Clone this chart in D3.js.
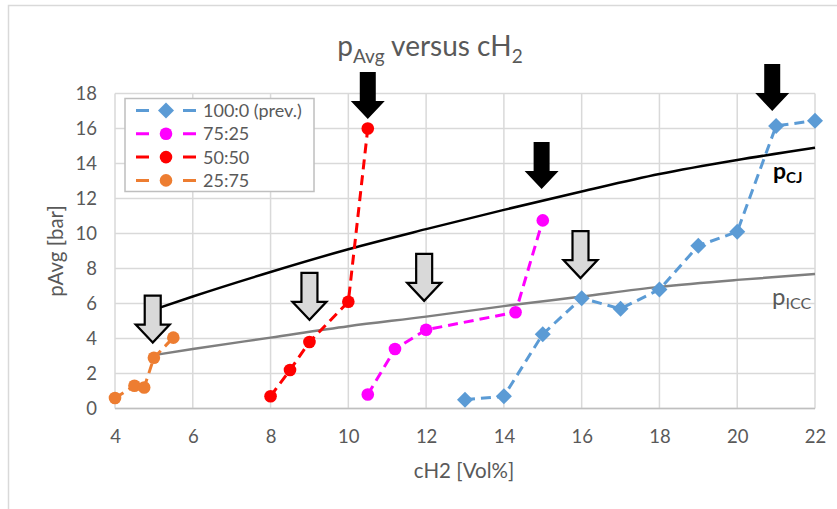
<!DOCTYPE html>
<html><head><meta charset="utf-8">
<script src="https://cdn.jsdelivr.net/npm/d3@7"></script>
<style>body{margin:0;background:#fff;} svg{display:block;font-family:Lato, "Open Sans", sans-serif;}</style>
</head><body>
<script>
// ---- data ----
const xTicks = [4,6,8,10,12,14,16,18,20,22];
const yTicks = [0,2,4,6,8,10,12,14,16,18];
const seriesNames = ["100:0 (prev.)","75:25","50:50","25:75"];
const s100_0 = [[13,0.5],[14,0.7],[15,4.25],[16,6.3],[17,5.7],[18,6.8],[19,9.3],[20,10.1],[21,16.15],[22,16.45]];
const s75_25 = [[10.5,0.8],[11.2,3.4],[12,4.5],[14.3,5.5],[15,10.75]];
const s50_50 = [[8,0.7],[8.5,2.2],[9,3.8],[10,6.1],[10.5,16.0]];
const s25_75 = [[4,0.6],[4.5,1.3],[4.75,1.2],[5,2.9],[5.5,4.05]];
const pCJ  = [[5,5.65],[6,6.4],[8,7.8],[10,9.1],[12,10.25],[14,11.35],[16,12.4],[18,13.4],[20,14.2],[22,14.9]];
const pICC = [[5,3.05],[6,3.4],[8,4.05],[10,4.7],[12,5.25],[14,5.85],[16,6.4],[18,6.95],[20,7.35],[22,7.68]];
const blackArrows = [[10.5,16.55],[14.97,12.55],[20.9,17.0]];
const greyArrows  = [[4.97,3.77],[9.0,5.07],[11.95,6.15],[15.97,7.45]];

const W=837,H=509;
const svg=d3.select("body").append("svg").attr("width",W).attr("height",H);
const x=d3.scaleLinear().domain([4,22]).range([115,815]);
const y=d3.scaleLinear().domain([0,18]).range([408.5,93.5]);
const grey="#595959";

// outer border
svg.append("rect").attr("x",8.5).attr("y",5.5).attr("width",W+20).attr("height",H+20)
  .attr("fill","none").attr("stroke","#d9d9d9").attr("stroke-width",1.5);

// grid
const g=svg.append("g");
g.selectAll(".vg").data(xTicks).join("line").attr("x1",d=>x(d)).attr("x2",d=>x(d))
  .attr("y1",y(0)).attr("y2",y(18)).attr("stroke","#d9d9d9").attr("stroke-width",1.5);
g.selectAll(".hg").data(yTicks).join("line").attr("y1",d=>y(d)).attr("y2",d=>y(d))
  .attr("x1",x(4)).attr("x2",x(22)).attr("stroke","#d9d9d9").attr("stroke-width",1.5);
svg.append("line").attr("x1",x(4)).attr("x2",x(22)).attr("y1",y(0)).attr("y2",y(0)).attr("stroke","#bfbfbf").attr("stroke-width",1.5);

// axes labels via d3 axes
const xa=svg.append("g").attr("transform",`translate(0,${y(0)})`)
  .call(d3.axisBottom(x).tickValues(xTicks).tickSize(0).tickPadding(21));
const ya=svg.append("g").attr("transform",`translate(${x(4)},0)`)
  .call(d3.axisLeft(y).tickValues(yTicks).tickSize(0).tickPadding(18));
[xa,ya].forEach(a=>{a.select(".domain").remove();a.selectAll("text").attr("fill",grey).style("font-size","18.5px").style("font-family","Lato");});

// titles
svg.append("text").attr("x",464).attr("y",478).attr("text-anchor","middle").attr("fill",grey)
  .style("font-size","20.5px").text("cH2 [Vol%]");
svg.append("text").attr("transform","translate(63,251) rotate(-90)").attr("text-anchor","middle").attr("fill",grey)
  .style("font-size","20.5px").text("pAvg [bar]");
const t=svg.append("text").attr("x",430).attr("y",56).attr("text-anchor","middle").attr("fill",grey).style("font-size","28px");
t.append("tspan").text("p");
t.append("tspan").attr("dy",7).style("font-size","19px").text("Avg");
t.append("tspan").attr("dy",-7).text(" versus cH");
t.append("tspan").attr("dy",7).style("font-size","19px").text("2");

// reference curves
const curveLine=d3.line().x(d=>x(d[0])).y(d=>y(d[1])).curve(d3.curveMonotoneX);
svg.append("path").attr("d",curveLine(pICC)).attr("fill","none").attr("stroke","#7f7f7f").attr("stroke-width",2.5);
svg.append("path").attr("d",curveLine(pCJ)).attr("fill","none").attr("stroke","#000").attr("stroke-width",2.5);

// labels
const l1=svg.append("text").attr("x",773).attr("y",179).attr("fill","#000").style("font-size","23px").style("font-weight","bold");
l1.append("tspan").text("p");
l1.append("tspan").attr("dy",4).style("font-size","15px").text("CJ");
const l2=svg.append("text").attr("x",772).attr("y",305).attr("fill",grey).style("font-size","24px");
l2.append("tspan").text("p");
l2.append("tspan").attr("dy",4).style("font-size","16px").text("ICC");

// series
const line=d3.line().x(d=>x(d[0])).y(d=>y(d[1]));
const series=[
  {name:seriesNames[0],data:s100_0,color:"#5b9bd5",shape:"diamond"},
  {name:seriesNames[1],data:s75_25,color:"#ff00ff",shape:"circle"},
  {name:seriesNames[2],data:s50_50,color:"#ff0000",shape:"circle"},
  {name:seriesNames[3],data:s25_75,color:"#ed7d31",shape:"circle"}
];
function marker(sel,shape,color){
  if(shape==="diamond") sel.append("path").attr("d","M0,-8L8,0L0,8L-8,0Z").attr("fill",color);
  else sel.append("circle").attr("r",6.3).attr("fill",color);
}
series.slice().reverse().forEach(s=>{
  svg.append("path").attr("d",line(s.data)).attr("fill","none").attr("stroke",s.color)
    .attr("stroke-width",3).attr("stroke-dasharray","10,6");
  s.data.forEach(p=>{
    const m=svg.append("g").attr("transform",`translate(${x(p[0])},${y(p[1])})`);
    marker(m,s.shape,s.color);
  });
});

// arrows
function arrow(p,fill,stroke){
  const tx=x(p[0]),ty=y(p[1]);
  const d=`M${tx},${ty} L${tx-17},${ty-18} L${tx-8},${ty-18} L${tx-8},${ty-47} L${tx+8},${ty-47} L${tx+8},${ty-18} L${tx+17},${ty-18} Z`;
  svg.append("path").attr("d",d).attr("fill",fill).attr("stroke",stroke).attr("stroke-width",stroke==="none"?0:2.2).attr("stroke-linejoin","miter");
}
blackArrows.forEach(p=>arrow(p,"#000","none"));
greyArrows.forEach(p=>arrow(p,"#d9d9d9","#000"));

// legend
const lg=svg.append("g");
lg.append("rect").attr("x",125).attr("y",98.5).attr("width",189).attr("height",93).attr("fill","#fff").attr("stroke","#bfbfbf").attr("stroke-width",1.5);
series.forEach((s,i)=>{
  const cy=110.5+i*23.3;
  const r=lg.append("g").attr("transform",`translate(0,${cy})`);
  r.append("line").attr("x1",136).attr("x2",196).attr("stroke",s.color).attr("stroke-width",3).attr("stroke-dasharray","13,34");
  const m=r.append("g").attr("transform","translate(166,0)");
  marker(m,s.shape,s.color);
  r.append("text").attr("x",203).attr("y",6.5).attr("fill",grey).style("font-size","18px").text(s.name);
});
</script>
</body></html>
